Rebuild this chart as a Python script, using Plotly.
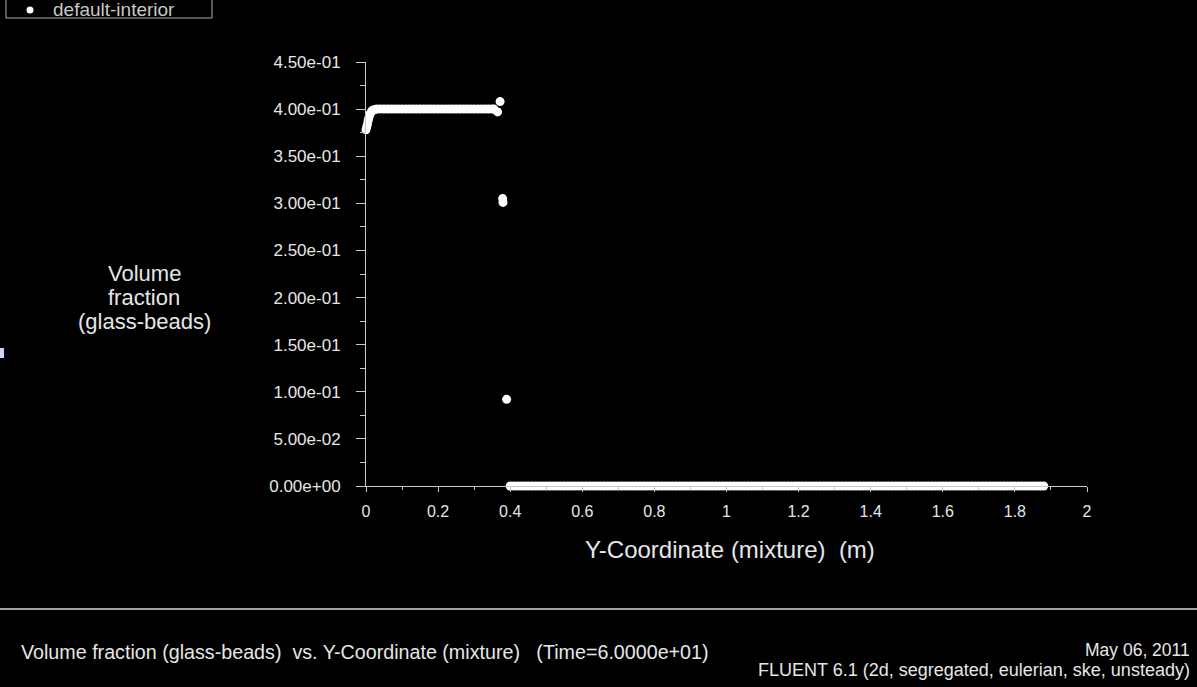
import plotly.graph_objects as go

W, H = 1197, 687
L, R, T, B = 366, 1087, 62, 486  # plot area in pixels

def px(x):
    return (x - L) / (R - L)

def py(y):
    return (B - y) / (B - T)

# ---- data ----
ramp_x = [0.000, 0.002, 0.004, 0.006, 0.008, 0.010, 0.013, 0.016, 0.020, 0.025]
ramp_y = [0.378, 0.381, 0.384, 0.388, 0.391, 0.394, 0.396, 0.398, 0.399, 0.3995]

plateau_x = [0.03, 0.04, 0.05, 0.06, 0.07, 0.08, 0.09, 0.10, 0.11, 0.12, 0.13,
             0.14, 0.15, 0.16, 0.17, 0.18, 0.19, 0.20, 0.21, 0.22, 0.23, 0.24,
             0.25, 0.26, 0.27, 0.28, 0.29, 0.30, 0.31, 0.32, 0.33, 0.34, 0.35, 0.355]
plateau_y = [0.400] * len(plateau_x)

front_x = [0.365, 0.372, 0.379, 0.380, 0.390]
front_y = [0.397, 0.408, 0.305, 0.301, 0.092]

zero_x = [0.40, 0.41, 0.42, 0.43, 0.44, 0.45, 0.46, 0.47, 0.48, 0.49,
          0.50, 0.51, 0.52, 0.53, 0.54, 0.55, 0.56, 0.57, 0.58, 0.59,
          0.60, 0.61, 0.62, 0.63, 0.64, 0.65, 0.66, 0.67, 0.68, 0.69,
          0.70, 0.71, 0.72, 0.73, 0.74, 0.75, 0.76, 0.77, 0.78, 0.79,
          0.80, 0.81, 0.82, 0.83, 0.84, 0.85, 0.86, 0.87, 0.88, 0.89,
          0.90, 0.91, 0.92, 0.93, 0.94, 0.95, 0.96, 0.97, 0.98, 0.99,
          1.00, 1.01, 1.02, 1.03, 1.04, 1.05, 1.06, 1.07, 1.08, 1.09,
          1.10, 1.11, 1.12, 1.13, 1.14, 1.15, 1.16, 1.17, 1.18, 1.19,
          1.20, 1.21, 1.22, 1.23, 1.24, 1.25, 1.26, 1.27, 1.28, 1.29,
          1.30, 1.31, 1.32, 1.33, 1.34, 1.35, 1.36, 1.37, 1.38, 1.39,
          1.40, 1.41, 1.42, 1.43, 1.44, 1.45, 1.46, 1.47, 1.48, 1.49,
          1.50, 1.51, 1.52, 1.53, 1.54, 1.55, 1.56, 1.57, 1.58, 1.59,
          1.60, 1.61, 1.62, 1.63, 1.64, 1.65, 1.66, 1.67, 1.68, 1.69,
          1.70, 1.71, 1.72, 1.73, 1.74, 1.75, 1.76, 1.77, 1.78, 1.79,
          1.80, 1.81, 1.82, 1.83, 1.84, 1.85, 1.86, 1.87, 1.88]
zero_y = [0.0] * len(zero_x)

x_all = ramp_x + plateau_x + front_x + zero_x
y_all = ramp_y + plateau_y + front_y + zero_y

series_name = "default-interior"

y_tickvals = [0.0, 0.05, 0.10, 0.15, 0.20, 0.25, 0.30, 0.35, 0.40, 0.45]
y_ticktext = ["0.00e+00", "5.00e-02", "1.00e-01", "1.50e-01", "2.00e-01",
              "2.50e-01", "3.00e-01", "3.50e-01", "4.00e-01", "4.50e-01"]
x_tickvals = [0, 0.2, 0.4, 0.6, 0.8, 1.0, 1.2, 1.4, 1.6, 1.8, 2.0]
x_ticktext = ["0", "0.2", "0.4", "0.6", "0.8", "1", "1.2", "1.4", "1.6", "1.8", "2"]

FONT = "Liberation Sans, Arial, sans-serif"
TXT = "#e6e6e6"
AX = "#c8c8c8"

fig = go.Figure()
fig.add_trace(go.Scatter(
    x=x_all, y=y_all, mode="markers", name=series_name,
    marker=dict(color="white", size=9, line=dict(width=0)),
    cliponaxis=False, showlegend=False,
))

fig.update_layout(
    width=W, height=H,
    paper_bgcolor="black", plot_bgcolor="black",
    margin=dict(l=L, r=W - R, t=T, b=H - B, autoexpand=False),
    font=dict(family=FONT, color=TXT),
    showlegend=False,
    xaxis=dict(
        range=[0, 2], showgrid=False, zeroline=False,
        showline=True, linecolor=AX, linewidth=1,
        tickmode="array", tickvals=x_tickvals, ticktext=x_ticktext,
        ticks="outside", ticklen=5, tickcolor=AX, tickwidth=1,
        tickfont=dict(size=16, color=TXT, family=FONT),
        ticklabelstandoff=6,
        minor=dict(dtick=0.1, ticks="outside", ticklen=3, tickcolor=AX, showgrid=False),
    ),
    yaxis=dict(
        range=[0, 0.45], showgrid=False, zeroline=False,
        showline=True, linecolor=AX, linewidth=1,
        tickmode="array", tickvals=y_tickvals, ticktext=y_ticktext,
        ticks="outside", ticklen=9, tickcolor=AX, tickwidth=1,
        tickfont=dict(size=17, color=TXT, family=FONT),
        ticklabelstandoff=12,
        minor=dict(dtick=0.025, ticks="outside", ticklen=5, tickcolor=AX, showgrid=False),
    ),
)

annos = []
# legend (drawn by hand so it can sit partly above the top edge, as in the reference)
annos.append(dict(text=series_name, x=px(51), y=py(10), xref="paper", yref="paper",
                  xanchor="left", yanchor="middle", showarrow=False,
                  font=dict(size=19, color="#c8c8c8", family=FONT)))
for text, yy in [("Volume", 273), ("fraction", 297), ("(glass-beads)", 321)]:
    annos.append(dict(text=text, x=px(144), y=py(yy), xref="paper", yref="paper",
                      xanchor="center", yanchor="middle", showarrow=False,
                      font=dict(size=22, color=TXT, family=FONT)))
annos.append(dict(text="Y-Coordinate (mixture)\u00a0\u00a0(m)", x=px(730), y=py(549),
                  xref="paper", yref="paper", xanchor="center", yanchor="middle",
                  showarrow=False, font=dict(size=24, color=TXT, family=FONT)))
annos.append(dict(text="Volume fraction (glass-beads)\u00a0\u00a0vs. Y-Coordinate (mixture)\u00a0\u00a0\u00a0(Time=6.0000e+01)",
                  x=px(19), y=py(652), xref="paper", yref="paper",
                  xanchor="left", yanchor="middle", showarrow=False,
                  font=dict(size=19.7, color=TXT, family=FONT)))
annos.append(dict(text="May 06, 2011", x=px(1192), y=py(650), xref="paper", yref="paper",
                  xanchor="right", yanchor="middle", showarrow=False,
                  font=dict(size=17.5, color=TXT, family=FONT)))
annos.append(dict(text="FLUENT 6.1 (2d, segregated, eulerian, ske, unsteady)", x=px(1192), y=py(670),
                  xref="paper", yref="paper", xanchor="right", yanchor="middle",
                  showarrow=False, font=dict(size=18, color=TXT, family=FONT)))
fig.update_layout(annotations=annos)

# legend box (top edge falls outside the page) and its marker
fig.add_shape(type="rect", xref="paper", yref="paper",
              x0=px(6), x1=px(212), y0=py(18), y1=py(-5),
              line=dict(color="#b0b0b0", width=1), fillcolor="rgba(0,0,0,0)")
fig.add_shape(type="circle", xref="paper", yref="paper",
              x0=px(26.5), x1=px(33.5), y0=py(13.5), y1=py(6.5),
              line=dict(width=0), fillcolor="white")

# separator line above the footer
fig.add_shape(type="line", xref="paper", yref="paper",
              x0=px(0), x1=px(W), y0=py(609), y1=py(609),
              line=dict(color="#a0a0a0", width=2))
fig.add_shape(type="rect", xref="paper", yref="paper",
              x0=px(0), x1=px(4), y0=py(348), y1=py(358),
              line=dict(width=0), fillcolor="#c8d8f0")

fig.write_html("out.html")
